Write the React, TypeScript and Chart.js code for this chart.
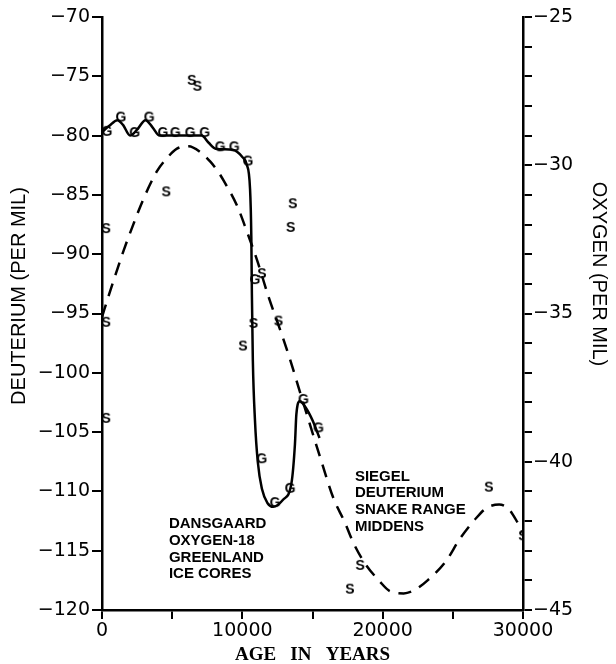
import React, { useEffect, useRef } from "react";
import { Chart, registerables } from "chart.js";

Chart.register(...registerables);

// Dansgaard oxygen-18 curve (Greenland ice cores), oxygen per mil vs age
const dansgaardYears = [0, 500, 1100, 1500, 2000, 2500, 3100, 3600, 4100, 7100, 7600, 8100, 9300, 10000, 10300, 10550, 10640, 10680, 10750, 10900, 11100, 11400, 11800, 12200, 12900, 13500, 13750, 13850, 14100, 14500, 15000, 15500];
const dansgaardOxygen = [-28.88, -28.68, -28.48, -28.64, -29.0, -28.8, -28.48, -28.72, -29.0, -29.0, -29.24, -29.44, -29.48, -29.72, -29.96, -30.8, -32.4, -34.32, -36.6, -38.6, -40.0, -40.92, -41.4, -41.52, -41.28, -40.72, -39.4, -38.4, -37.96, -38.16, -38.6, -39.2];

// "G" sample marks (oxygen)
const gYears = [360, 1350, 2330, 3370, 4350, 5230, 6290, 7320, 8430, 9430, 10400, 10900, 11390, 12340, 13410, 14360, 15430];
const gOxygen = [-28.84, -28.36, -28.88, -28.36, -28.88, -28.88, -28.88, -28.88, -29.36, -29.36, -29.84, -33.84, -39.88, -41.36, -40.88, -37.88, -38.84];

// Siegel deuterium curve (Snake Range middens)
const siegelYears = [0, 500, 1000, 1540, 2260, 2970, 3920, 4630, 5340, 6180, 7010, 7720, 8310, 8670, 9620, 10330, 11050, 11870, 12820, 13410, 14000, 15670, 16500, 17300, 17900, 18700, 19800, 20500, 21500, 22300, 23200, 24500, 25500, 26700, 27400, 28300, 29000, 29600, 30000];
const siegelDeuterium = [-95.3, -93.4, -91.6, -89.7, -87.4, -85.3, -83.0, -81.9, -81.1, -80.9, -81.4, -82.2, -83.1, -83.8, -85.9, -88.1, -90.5, -93.6, -96.8, -98.9, -101.2, -107.6, -110.6, -112.6, -114.3, -116.0, -117.6, -118.4, -118.6, -118.3, -117.5, -115.9, -114.0, -112.2, -111.4, -111.1, -111.5, -112.6, -113.5];

// "S" sample marks (deuterium)
const sYears = [6400, 6800, 4580, 300, 300, 300, 13600, 13450, 10800, 10050, 11400, 12580, 18400, 17670, 27570, 30000];
const sDeuterium = [-75.3, -75.8, -84.7, -87.8, -95.7, -103.8, -85.7, -87.7, -95.8, -97.7, -91.6, -95.6, -116.2, -118.2, -109.6, -113.7];

const ageTickValues = [0, 5000, 10000, 15000, 20000, 25000, 30000];
const ageLabelled = [0, 10000, 20000, 30000];
const deuteriumTickValues = [-120, -115, -110, -105, -100, -95, -90, -85, -80, -75, -70];
const oxygenLabelled = [-45, -40, -35, -30, -25];

const dansgaardNote = ["DANSGAARD", "OXYGEN-18", "GREENLAND", "ICE CORES"];
const dansgaardNoteAt = [4770, -112.75];
const siegelNote = ["SIEGEL", "DEUTERIUM", "SNAKE RANGE", "MIDDENS"];
const siegelNoteAt = [18020, -108.75];

const xTitle = "AGE   IN   YEARS";
const yTitle = "DEUTERIUM (PER MIL)";
const y1Title = "OXYGEN (PER MIL)";

const minus = (v: number) => (v < 0 ? "\u2212" + Math.abs(v) : String(v));

function letterMark(ch: string): HTMLCanvasElement {
  const c = document.createElement("canvas");
  c.width = 16;
  c.height = 16;
  const ctx = c.getContext("2d")!;
  ctx.font = 'bold 14px "Liberation Sans", Arial, sans-serif';
  ctx.textAlign = "center";
  ctx.textBaseline = "middle";
  ctx.fillStyle = "#000";
  ctx.fillText(ch, 8, 9);
  return c;
}

const notesPlugin = {
  id: "notes",
  afterDatasetsDraw(chart: any) {
    const { ctx, scales } = chart;
    const xs = scales.x;
    const ys = scales.y;
    ctx.save();
    ctx.fillStyle = "#000";
    ctx.font = 'bold 15px "Liberation Sans", Arial, sans-serif';
    ctx.textAlign = "left";
    ctx.textBaseline = "middle";
    const drawBlock = (lines: string[], at: number[]) => {
      const px = xs.getPixelForValue(at[0]);
      const py = ys.getPixelForValue(at[1]);
      lines.forEach((t, i) => ctx.fillText(t, px, py + i * 16.7));
    };
    drawBlock(dansgaardNote, dansgaardNoteAt);
    drawBlock(siegelNote, siegelNoteAt);

    ctx.font = '20px "Liberation Sans", Arial, sans-serif';
    ctx.textAlign = "center";
    ctx.textBaseline = "middle";
    ctx.save();
    ctx.translate(19, 296);
    ctx.rotate(-Math.PI / 2);
    ctx.fillText(yTitle, 0, 0);
    ctx.restore();
    ctx.save();
    ctx.translate(599, 274);
    ctx.rotate(Math.PI / 2);
    ctx.fillText(y1Title, 0, 0);
    ctx.restore();
    ctx.restore();
  },
};

export default function App() {
  const ref = useRef<HTMLCanvasElement>(null);

  useEffect(() => {
    document.body.style.margin = "0";
    const canvas = ref.current!;
    const gMark = letterMark("G");
    const sMark = letterMark("S");
    const tickFont = { family: '"DejaVu Sans", sans-serif', size: 19 };

    const chart = new Chart(canvas, {
      type: "line",
      data: {
        datasets: [
          {
            label: "Dansgaard oxygen-18",
            data: dansgaardYears.map((x, i) => ({ x, y: dansgaardOxygen[i] })),
            yAxisID: "y1",
            borderColor: "#000",
            borderWidth: 2.5,
            pointRadius: 0,
            cubicInterpolationMode: "monotone",
            fill: false,
          },
          {
            label: "Siegel deuterium",
            data: siegelYears.map((x, i) => ({ x, y: siegelDeuterium[i] })),
            yAxisID: "y",
            borderColor: "#000",
            borderWidth: 2.5,
            borderDash: [13, 9],
            pointRadius: 0,
            cubicInterpolationMode: "monotone",
            fill: false,
          },
          {
            type: "scatter",
            label: "G",
            data: gYears.map((x, i) => ({ x, y: gOxygen[i] })),
            yAxisID: "y1",
            pointStyle: gMark,
            pointRadius: 8,
            showLine: false,
          },
          {
            type: "scatter",
            label: "S",
            data: sYears.map((x, i) => ({ x, y: sDeuterium[i] })),
            yAxisID: "y",
            pointStyle: sMark,
            pointRadius: 8,
            showLine: false,
          },
        ] as any,
      },
      options: {
        animation: false,
        responsive: false,
        devicePixelRatio: 1,
        layout: { padding: { top: 17, left: 0, right: 0, bottom: 0 } },
        plugins: { legend: { display: false }, tooltip: { enabled: false } },
        scales: {
          x: {
            type: "linear",
            position: "bottom",
            min: 0,
            max: 30000,
            afterBuildTicks: (s: any) => {
              s.ticks = ageTickValues.map((value) => ({ value }));
            },
            afterFit: (s: any) => {
              s.height = 54;
            },
            ticks: {
              autoSkip: false,
              maxRotation: 0,
              color: "#000",
              font: tickFont,
              padding: 1,
              callback: (v: any) => (ageLabelled.includes(v) ? String(v) : ""),
            },
            grid: { drawOnChartArea: false, drawTicks: true, tickLength: 9, color: "#000", lineWidth: 2 },
            border: { display: true, color: "#000", width: 2.5 },
            title: {
              display: true,
              text: xTitle,
              color: "#000",
              font: { family: '"Liberation Serif", serif', weight: "bold", size: 19, lineHeight: 0.95 },
              padding: 0,
            },
          },
          y: {
            type: "linear",
            position: "left",
            min: -120,
            max: -70,
            afterBuildTicks: (s: any) => {
              s.ticks = deuteriumTickValues.map((value) => ({ value }));
            },
            afterFit: (s: any) => {
              s.width = 102;
            },
            ticks: { color: "#000", font: tickFont, padding: 2, callback: (v: any) => minus(v) },
            grid: { drawOnChartArea: false, drawTicks: true, tickLength: 10, color: "#000", lineWidth: 2 },
            border: { display: true, color: "#000", width: 2.5 },
          },
          y1: {
            type: "linear",
            position: "right",
            min: -45,
            max: -25,
            afterBuildTicks: (s: any) => {
              const t = [];
              for (let v = -45; v <= -25; v += 1) t.push({ value: v });
              s.ticks = t;
            },
            afterFit: (s: any) => {
              s.width = 93;
            },
            ticks: {
              autoSkip: false,
              color: "#000",
              font: tickFont,
              padding: 1,
              callback: (v: any) => (oxygenLabelled.includes(v) ? minus(v) : ""),
            },
            grid: { drawOnChartArea: false, drawTicks: true, tickLength: 9, color: "#000", lineWidth: 2 },
            border: { display: true, color: "#000", width: 2.5 },
          },
        },
      } as any,
      plugins: [notesPlugin],
    });
    return () => chart.destroy();
  }, []);

  return <canvas ref={ref} width={616} height={664} style={{ display: "block" }} />;
}
